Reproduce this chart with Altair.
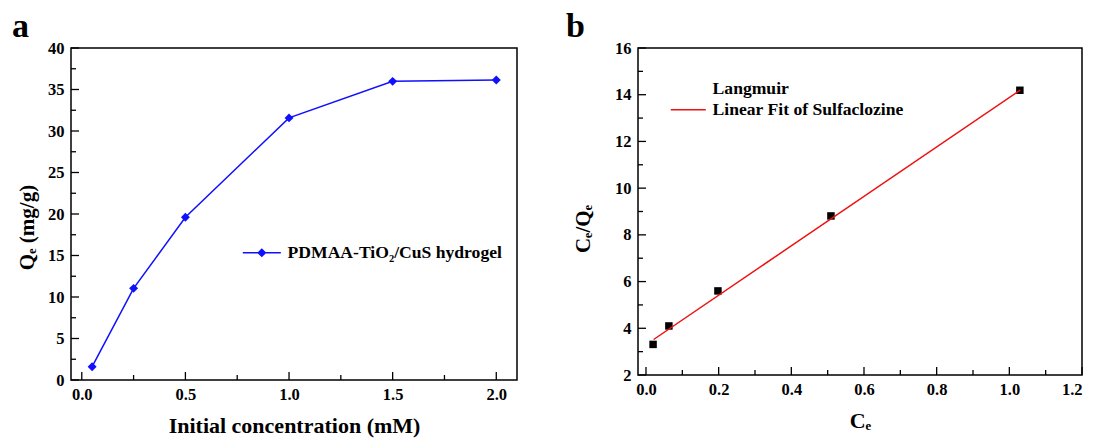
import altair as alt
import pandas as pd

# ---- data (panel a) ----
conc = [0.05, 0.25, 0.5, 1.0, 1.5, 2.0]
qe = [1.6, 11.04, 19.6, 31.58, 35.98, 36.15]
series_a = "PDMAA-TiO₂/CuS hydrogel"

# ---- data (panel b) ----
ce = [0.0195, 0.063, 0.198, 0.509, 1.029]
ce_qe = [3.31, 4.1, 5.6, 8.81, 14.19]
fit_x = [0.021, 1.03]
fit_y = [3.52, 14.2]
series_b = ["Langmuir", "Linear Fit of Sulfaclozine"]

# ---- tick values ----
a_x_major = [0.0, 0.5, 1.0, 1.5, 2.0]
a_x_minor = [0.25, 0.75, 1.25, 1.75]
a_y_major = [0, 5, 10, 15, 20, 25, 30, 35, 40]
a_y_minor = [2.5, 7.5, 12.5, 17.5, 22.5, 27.5, 32.5, 37.5]
b_x_major = [0.0, 0.2, 0.4, 0.6, 0.8, 1.0, 1.2]
b_x_minor = [0.1, 0.3, 0.5, 0.7, 0.9, 1.1]
b_y_major = [2, 4, 6, 8, 10, 12, 14, 16]
b_y_minor = [3, 5, 7, 9, 11, 13, 15]

FONT = "Liberation Serif"
BLUE = "#1010ff"
RED = "#ee1111"
WA, HA = 446, 332
WB, HB = 444, 327

axis_common = dict(domain=False, ticks=False, grid=False,
                   labelFont=FONT, labelFontSize=16.5, labelFontWeight="bold", labelColor="black",
                   titleFont=FONT, titleFontWeight="bold", titleColor="black")


def tick_layers(xs, ys, xax, yax, xmaj, xmin, ymaj, ymin, h):
    layers = []
    for vals, ln in ((xmaj, 8), (xmin, 5)):
        layers.append(alt.Chart(pd.DataFrame({"x": vals})).mark_rule(color="black", strokeWidth=1.3).encode(
            x=alt.X("x:Q", scale=xs, axis=xax), y=alt.value(h), y2=alt.value(h - ln)))
    for vals, ln in ((ymaj, 8), (ymin, 5)):
        layers.append(alt.Chart(pd.DataFrame({"y": vals})).mark_rule(color="black", strokeWidth=1.3).encode(
            y=alt.Y("y:Q", scale=ys, axis=yax), x=alt.value(0), x2=alt.value(ln)))
    return layers


# ---- panel a ----
dfa = pd.DataFrame({"x": conc, "y": qe, "s": [series_a] * len(conc)})
xa = alt.Scale(domain=[-0.052, 2.1], nice=False, zero=False)
ya = alt.Scale(domain=[0, 40], nice=False)
xa_axis = alt.Axis(values=a_x_major, format=".1f", title="Initial concentration (mM)", titleFontSize=22,
                   labelPadding=6, titlePadding=13, **axis_common)
ya_axis = alt.Axis(values=a_y_major, title="Qₑ (mg/g)", titleFontSize=21, titleY=HA / 2 + 13,
                   labelPadding=7, titlePadding=10, **axis_common)

line_a = alt.Chart(dfa).mark_line(strokeWidth=1.5).encode(
    x=alt.X("x:Q", scale=xa, axis=xa_axis),
    y=alt.Y("y:Q", scale=ya, axis=ya_axis),
    color=alt.Color("s:N", scale=alt.Scale(domain=[series_a], range=[BLUE]),
                    legend=alt.Legend(orient="none", legendX=197, legendY=196, title=None, padding=0,
                                      symbolType="M-8.5,0H1M-4.625,0L-3.75,-0.875L-2.875,0L-3.75,0.875Z",
                                      symbolSize=64, symbolStrokeWidth=1.5, symbolFillColor=BLUE,
                                      symbolStrokeColor=BLUE, labelOffset=2,
                                      labelFont=FONT, labelFontSize=17.6, labelFontWeight="bold",
                                      labelColor="black", labelLimit=400)),
)
pts_a = alt.Chart(dfa).mark_point(shape="diamond", filled=True, size=80, opacity=1, color=BLUE).encode(
    x=alt.X("x:Q", scale=xa, axis=xa_axis), y=alt.Y("y:Q", scale=ya, axis=ya_axis))

panel_a = alt.layer(line_a, pts_a, *tick_layers(xa, ya, xa_axis, ya_axis, a_x_major, a_x_minor,
                                                a_y_major, a_y_minor, HA)).properties(
    width=WA, height=HA,
    title=alt.TitleParams("a", anchor="start", frame="group", dx=-59, font=FONT, fontSize=34,
                          fontWeight="bold", offset=-4, color="black"))

# ---- panel b ----
dfb = pd.DataFrame({"x": ce, "y": ce_qe})
dff = pd.DataFrame({"x": fit_x, "y": fit_y, "s": [series_b[1]] * len(fit_x)})
xb = alt.Scale(domain=[-0.022, 1.2], nice=False, zero=False)
yb = alt.Scale(domain=[2, 16], nice=False, zero=False)
xb_axis = alt.Axis(values=b_x_major, format=".1f", title="Cₑ", titleFontSize=22,
                   labelPadding=6, titlePadding=13, **axis_common)
yb_axis = alt.Axis(values=b_y_major, title="Cₑ/Qₑ", titleFontSize=21, titleY=HB / 2 + 17,
                   labelPadding=7, titlePadding=21, **axis_common)

fit_b = alt.Chart(dff).mark_line(strokeWidth=1.5).encode(
    x=alt.X("x:Q", scale=xb, axis=xb_axis),
    y=alt.Y("y:Q", scale=yb, axis=yb_axis),
    color=alt.Color("s:N", scale=alt.Scale(domain=series_b, range=["transparent", RED]),
                    legend=alt.Legend(orient="none", legendX=55, legendY=32, title=None, padding=0,
                                      symbolType="M-7.75,0H1", symbolSize=64, symbolStrokeWidth=1.5,
                                      labelOffset=2, rowPadding=2,
                                      labelFont=FONT, labelFontSize=17.6, labelFontWeight="bold",
                                      labelColor="black", labelLimit=400)),
)
pts_b = alt.Chart(dfb).mark_point(shape="square", filled=True, size=56, opacity=1, color="black").encode(
    x=alt.X("x:Q", scale=xb, axis=xb_axis), y=alt.Y("y:Q", scale=yb, axis=yb_axis))

panel_b = alt.layer(pts_b, fit_b, *tick_layers(xb, yb, xb_axis, yb_axis, b_x_major, b_x_minor,
                                               b_y_major, b_y_minor, HB)).properties(
    width=WB, height=HB,
    title=alt.TitleParams("b", anchor="start", frame="group", dx=-72, font=FONT, fontSize=34,
                          fontWeight="bold", offset=-4, color="black"))

chart = alt.hconcat(panel_a, panel_b, spacing=47).resolve_scale(color="independent").configure_view(
    stroke="black", strokeWidth=1.5).properties(
    background="white", padding={"left": 3, "top": 1, "right": 0, "bottom": 0})

chart.save("out.html", embed_options={"renderer": "svg", "actions": False})
